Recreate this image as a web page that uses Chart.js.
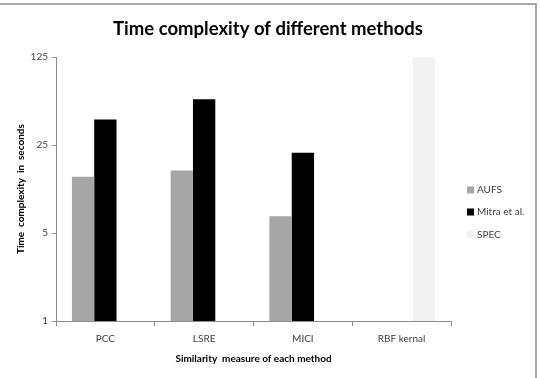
<!DOCTYPE html>
<html>
<head>
<meta charset="utf-8">
<script src="https://cdn.jsdelivr.net/npm/chart.js@4/dist/chart.umd.min.js"></script>
<style>
  html, body { margin: 0; padding: 0; background: #ffffff; }
  #wrap { width: 540px; height: 378px; }
</style>
</head>
<body>
<div id="wrap"><canvas id="c" width="540" height="378"></canvas></div>
<script>
const categories = ['PCC', 'LSRE', 'MICI', 'RBF kernal'];
const aufsValues = [14, 15.7, 6.8, null];
const mitraValues = [40, 58, 21.7, null];
const specValues = [null, null, null, 125];
const yTickValues = [1, 5, 25, 125];
const seriesNames = ['AUFS', 'Mitra et al.', 'SPEC'];

const FONT = 'Lato, "Open Sans", "DejaVu Sans", sans-serif';

const framePlugin = {
  id: 'frame',
  beforeDraw(chart) {
    const ctx = chart.ctx;
    ctx.save();
    ctx.fillStyle = '#ffffff';
    ctx.fillRect(0, 0, chart.width, chart.height);
    ctx.strokeStyle = '#a8a8a8';
    ctx.lineWidth = 2;
    ctx.beginPath();
    ctx.moveTo(0, 4);
    ctx.lineTo(536, 4);
    ctx.lineTo(536, chart.height);
    ctx.stroke();
    ctx.restore();
  }
};

const legendPlugin = {
  id: 'sideLegend',
  afterDraw(chart) {
    const ctx = chart.ctx;
    ctx.save();
    ctx.font = '10px ' + FONT;
    ctx.textBaseline = 'middle';
    ctx.textAlign = 'left';
    const ys = [190, 212, 234.5];
    chart.data.datasets.forEach((ds, i) => {
      const y = ys[i];
      ctx.fillStyle = ds.backgroundColor;
      ctx.fillRect(467, y - 3.5, 7, 7);
      ctx.fillStyle = '#404040';
      ctx.fillText(ds.label, 477, y);
    });
    ctx.restore();
  }
};

new Chart(document.getElementById('c'), {
  type: 'bar',
  data: {
    labels: categories,
    datasets: [
      { label: seriesNames[0], data: aufsValues, backgroundColor: '#a6a6a6', borderWidth: 0 },
      { label: seriesNames[1], data: mitraValues, backgroundColor: '#000000', borderWidth: 0 },
      { label: seriesNames[2], data: specValues, backgroundColor: '#f2f2f2', borderWidth: 0 }
    ]
  },
  options: {
    responsive: false,
    animation: false,
    devicePixelRatio: 1,
    layout: { padding: { left: 0, right: 4, top: 0, bottom: 13 } },
    datasets: { bar: { categoryPercentage: 0.678, barPercentage: 1.0 } },
    plugins: {
      legend: { display: false },
      tooltip: { enabled: false },
      title: {
        display: true,
        text: 'Time complexity of different methods',
        color: '#000000',
        font: { family: FONT, size: 18.5, weight: 'bold', lineHeight: 1.2 },
        padding: { top: 18, bottom: 17 }
      }
    },
    scales: {
      x: {
        grid: { display: true, drawOnChartArea: false, drawTicks: true, tickLength: 5, color: '#8c8c8c', offset: true },
        border: { display: true, color: '#8c8c8c', width: 1 },
        ticks: { color: '#404040', font: { family: FONT, size: 10 }, padding: 7, maxRotation: 0, autoSkip: false },
        title: {
          display: true,
          text: 'Similarity  measure of each method',
          color: '#000000',
          font: { family: FONT, size: 10, weight: 'bold', lineHeight: 1.2 },
          padding: { top: 1, bottom: 0 }
        }
      },
      y: {
        type: 'logarithmic',
        min: 1,
        max: 125,
        afterBuildTicks(scale) {
          scale.ticks = yTickValues.map(v => ({ value: v }));
        },
        afterFit(scale) { scale.width = 56; },
        grid: { display: true, drawOnChartArea: false, drawTicks: true, tickLength: 4, color: '#8c8c8c' },
        border: { display: true, color: '#8c8c8c', width: 1 },
        ticks: {
          color: '#404040',
          font: { family: FONT, size: 10 },
          padding: 4,
          callback: (v) => String(v)
        },
        title: {
          display: true,
          text: 'Time  complexity  in  seconds',
          color: '#000000',
          font: { family: FONT, size: 10, weight: 'bold', lineHeight: 1.2 },
          padding: { top: 15, bottom: 0 }
        }
      },
      legendSpace: {
        type: 'linear',
        position: 'right',
        display: true,
        afterFit(scale) { scale.width = 85; },
        grid: { display: false },
        border: { display: false },
        ticks: { display: false }
      }
    }
  },
  plugins: [framePlugin, legendPlugin]
});
</script>
</body>
</html>
